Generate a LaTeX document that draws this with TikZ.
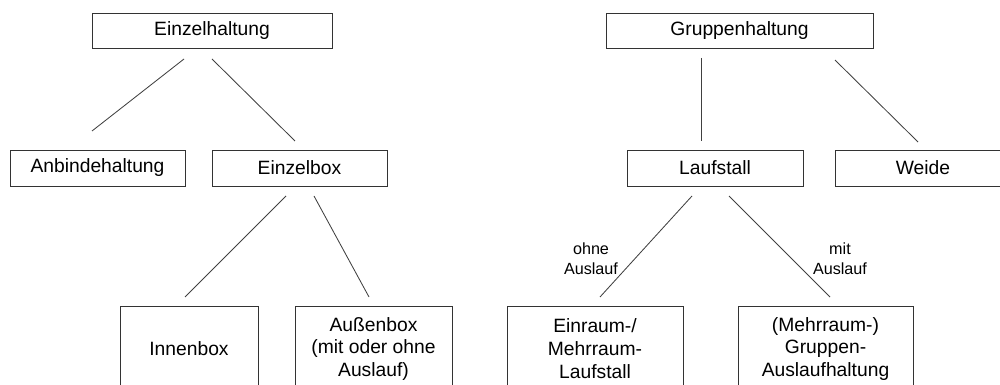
\documentclass[tikz,border=0pt]{standalone}
\usepackage{fontspec}
\setmainfont{Liberation Sans}
\usepackage{tikz}

\tikzset{
  kasten/.style={draw=black!80, line width=0.6pt, align=center, inner sep=0pt,
    font=\fontsize{13.7}{16.3}\selectfont},
  ast/.style={draw=black!75, line width=0.6pt},
  hinweis/.style={align=center, inner sep=0pt, font=\fontsize{11.5}{14.2}\selectfont}
}

\begin{document}
\begin{tikzpicture}[x=0.025cm, y=-0.025cm]
        \useasboundingbox (0,0) rectangle (1000,385);
        % Einzelhaltung
        \node[kasten, minimum width=6cm, minimum height=0.875cm] (einzel) at (212,30.5) {Einzelhaltung};
        \node[kasten, minimum width=4.375cm, minimum height=0.9cm] (anbinde) at (97.5,168) {Anbindehaltung};
        \node[kasten, minimum width=4.375cm, minimum height=0.9cm] (ebox) at (299.5,168) {Einzelbox};
        \node[kasten, minimum width=3.45cm, minimum height=2.15cm] (innen) at (189,349) {Innenbox};
        \node[kasten, minimum width=3.925cm, minimum height=2.15cm] (aussen) at (373.5,349) {Außenbox\\(mit oder ohne\\Auslauf)};
        % Gruppenhaltung
        \node[kasten, minimum width=6.675cm, minimum height=0.875cm] (gruppe) at (739.5,30.5) {Gruppenhaltung};
        \node[kasten, minimum width=4.4cm, minimum height=0.9cm] (lauf) at (715,168) {Laufstall};
        \node[kasten, minimum width=4.4cm, minimum height=0.9cm] (weide) at (923,168) {Weide};
        \node[kasten, minimum width=4.4cm, minimum height=2.15cm] (einraum) at (595,349) {Einraum-/\\Mehrraum-\\Laufstall};
        \node[kasten, minimum width=4.375cm, minimum height=2.15cm] (mehrraum) at (825.5,349) {(Mehrraum-)\\Gruppen-\\Auslaufhaltung};
        % Linienenden
        \coordinate (einzel-l) at (184,59);
        \coordinate (einzel-r) at (212,59);
        \coordinate (anbinde-o) at (92,131);
        \coordinate (ebox-o) at (295,141);
        \coordinate (ebox-l) at (286,196);
        \coordinate (ebox-r) at (314,196);
        \coordinate (innen-o) at (185,297);
        \coordinate (aussen-o) at (369,297);
        \coordinate (gruppe-l) at (701,58);
        \coordinate (gruppe-r) at (835,60);
        \coordinate (lauf-o) at (701,141);
        \coordinate (weide-o) at (918,142);
        \coordinate (lauf-l) at (692,196);
        \coordinate (lauf-r) at (729,196);
        \coordinate (einraum-o) at (600,297);
        \coordinate (mehrraum-o) at (830,297);
        \draw[ast] (einzel-l) -- (anbinde-o);
        \draw[ast] (einzel-r) -- (ebox-o);
        \draw[ast] (ebox-l) -- (innen-o);
        \draw[ast] (ebox-r) -- (aussen-o);
        \draw[ast] (gruppe-l) -- (lauf-o);
        \draw[ast] (gruppe-r) -- (weide-o);
        \draw[ast] (lauf-l) -- (einraum-o);
        \draw[ast] (lauf-r) -- (mehrraum-o);
        \node[hinweis] (ohne) at (591,259) {ohne\\Auslauf};
        \node[hinweis] (mit) at (840,259) {mit\\Auslauf};
    \end{tikzpicture}
\end{document}
